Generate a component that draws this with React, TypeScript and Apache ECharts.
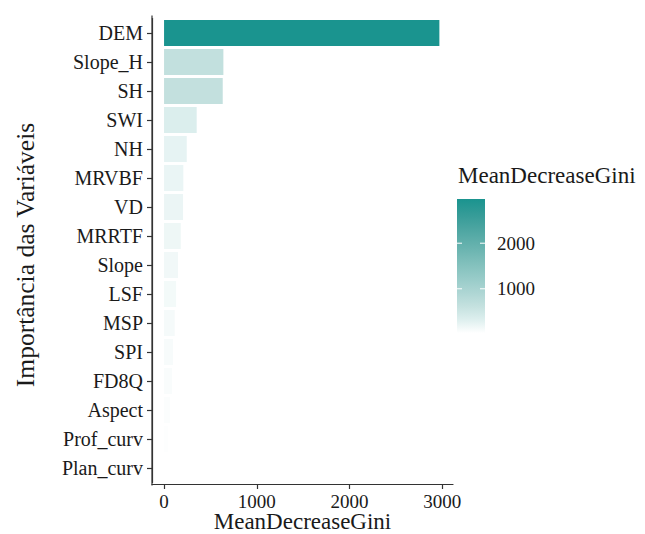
import React, { useEffect, useRef } from "react";
import * as echarts from "echarts";

const variables = ["DEM", "Slope_H", "SH", "SWI", "NH", "MRVBF", "VD", "MRRTF", "Slope", "LSF", "MSP", "SPI", "FD8Q", "Aspect", "Prof_curv", "Plan_curv"];
const meanDecreaseGini = [2970, 640, 633, 352, 245, 208, 205, 180, 150, 130, 115, 97, 86, 65, 45, 30];
const xTicks = [0, 1000, 2000, 3000];
const legendTicks = [1000, 2000];
const colorStops = ["#FFFFFF", "#DDEFEE", "#C4E1DF", "#AED6D4", "#99CCC9", "#85C2BE", "#70B7B3", "#5CADA9", "#47A39F", "#319A96", "#1A948F"];

const FONT = "'Liberation Serif', 'Times New Roman', serif";

export default function App() {
  const ref = useRef<HTMLDivElement>(null);
  useEffect(() => {
    if (!ref.current) return;
    const chart = echarts.init(ref.current, null, { renderer: "svg" });
    const vMin = Math.min(...meanDecreaseGini);
    const vMax = Math.max(...meanDecreaseGini);
    const lgX = 457, lgY = 199, lgW = 28, lgH = 134;
    const yOf = (v: number) => lgY + lgH - ((v - vMin) / (vMax - vMin)) * lgH;
    const gradStops = colorStops.map((c, i) => ({ offset: 1 - i / (colorStops.length - 1), color: c }));
    const legendEls: any[] = [
      { type: "text", left: 458, top: 164, style: { text: "MeanDecreaseGini", font: `23px ${FONT}`, fill: "#1a1a1a" } },
      { type: "rect", shape: { x: lgX, y: lgY, width: lgW, height: lgH }, style: { fill: new echarts.graphic.LinearGradient(0, 0, 0, 1, gradStops.slice().reverse()) } },
      { type: "text", x: 25, y: 255, rotation: Math.PI / 2, style: { text: "Importância das Variáveis", font: `25.5px ${FONT}`, fill: "#1a1a1a", align: "center", verticalAlign: "middle" } },
      { type: "text", x: 302.5, y: 521, style: { text: "MeanDecreaseGini", font: `23px ${FONT}`, fill: "#1a1a1a", align: "center", verticalAlign: "middle" } },
    ];
    legendTicks.forEach((t) => {
      const y = yOf(t);
      legendEls.push({ type: "line", shape: { x1: lgX, y1: y, x2: lgX + 5, y2: y }, style: { stroke: "#ffffff", lineWidth: 1 } });
      legendEls.push({ type: "line", shape: { x1: lgX + lgW - 5, y1: y, x2: lgX + lgW, y2: y }, style: { stroke: "#ffffff", lineWidth: 1 } });
      legendEls.push({ type: "text", x: 497, y, style: { text: String(t), font: `19px ${FONT}`, fill: "#1a1a1a", verticalAlign: "middle", align: "left" } });
    });
    legendEls.push({ type: "line", shape: { x1: 152, y1: 15.5, x2: 152, y2: 485.5 }, style: { stroke: "#333333", lineWidth: 1.2 } });

    chart.setOption({
      animation: false,
      textStyle: { fontFamily: FONT },
      grid: { left: 152, right: 192, top: 18.5, height: 464, containLabel: false, outerBoundsMode: "none" },
      xAxis: {
        type: "value",
        min: -130,
        max: 3117,
        offset: 1.5,
        splitLine: { show: false },
        axisLine: { show: true, onZero: false, lineStyle: { color: "#333333", width: 1.2 } },
        axisTick: { show: true, length: 5, customValues: xTicks, lineStyle: { color: "#333333", width: 1.2 } },
        axisLabel: { customValues: xTicks, formatter: (v: number) => String(v), fontFamily: FONT, fontSize: 19, color: "#1a1a1a", margin: 8 },
      },
      yAxis: {
        type: "category",
        data: variables,
        inverse: true,
        axisLine: { show: true, onZero: false, lineStyle: { color: "#333333", width: 1.2 } },
        axisTick: { show: true, alignWithLabel: true, length: 5, inside: false, lineStyle: { color: "#333333", width: 1.2 } },
        axisLabel: { fontFamily: FONT, fontSize: 20, color: "#1a1a1a", margin: 9 },
      },
      visualMap: {
        show: false,
        type: "continuous",
        min: vMin,
        max: vMax,
        dimension: 0,
        inRange: { color: colorStops },
      },
      series: [
        {
          type: "bar",
          data: meanDecreaseGini,
          barWidth: "90%",
          itemStyle: { borderWidth: 0 },
        },
      ],
      graphic: legendEls,
    });
    return () => chart.dispose();
  }, []);
  return <div ref={ref} style={{ width: 645, height: 534, position: "absolute", left: 0, top: 0 }} />;
}
